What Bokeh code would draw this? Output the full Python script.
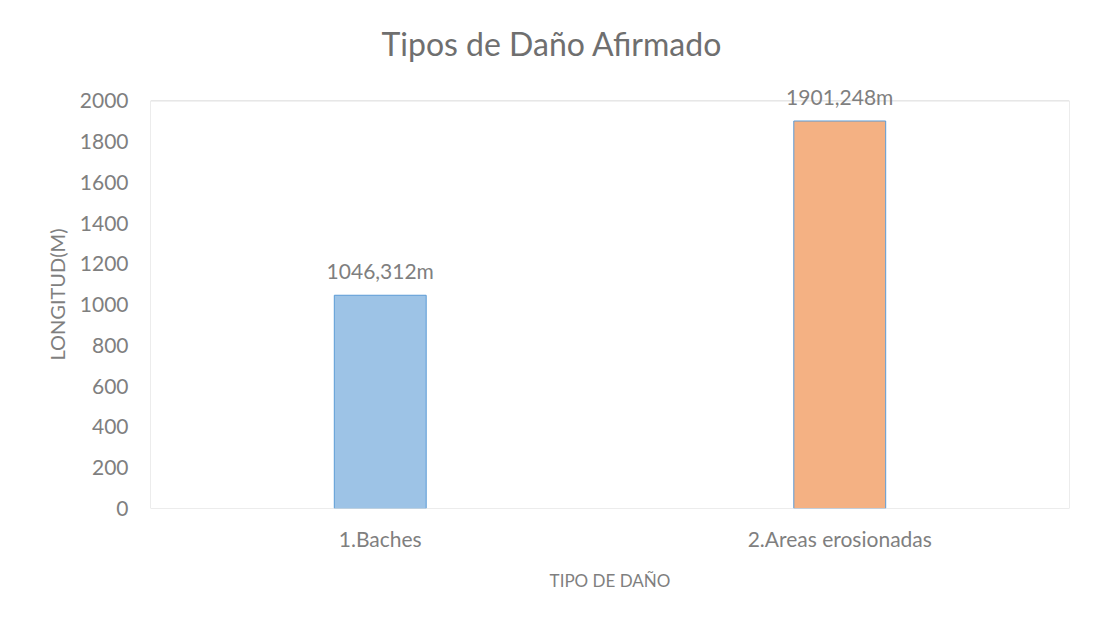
from bokeh.plotting import figure
from bokeh.models import ColumnDataSource, FactorRange, FixedTicker, LabelSet, BoxAnnotation
from bokeh.embed import file_html
from bokeh.resources import INLINE
from bokeh.core.properties import value

categories = ["1.Baches", "2.Areas erosionadas"]
values = [1046.312, 1901.248]
fill_colors = ["#9DC3E6", "#F4B183"]
y_ticks = [0, 200, 400, 600, 800, 1000, 1200, 1400, 1600, 1800, 2000]

labels = [f"{v:.3f}".replace(".", ",") + "m" for v in values]

FONT = "Lato"
GRAY = "#7f7f7f"

src = ColumnDataSource(dict(cat=categories, val=values, color=fill_colors, label=labels))

# headroom above the 2000 frame line so the value labels are not clipped
y_top = y_ticks[-1] * 1.05

p = figure(width=1095, height=620, x_range=FactorRange(*categories), y_range=(0, y_top),
           output_backend="svg", toolbar_location=None,
           min_border_left=150, min_border_right=26, min_border_top=80, min_border_bottom=112)

p.title.text = "Tipos de Daño Afirmado"
p.title.align = "left"
p.title.offset = 231
p.title.text_font = FONT
p.title.text_font_size = "32px"
p.title.text_font_style = "normal"
p.title.text_color = "#6f6f6f"
p.title.standoff = 36

# plot-area border (0 .. 2000)
p.add_layout(BoxAnnotation(bottom=y_ticks[0], top=y_ticks[-1], fill_alpha=0,
                           line_color="#d9d9d9", line_alpha=1.0, line_width=1))

p.vbar(x="cat", top="val", width=0.2, source=src, fill_color="color", line_color="#5B9BD5", line_width=1)
p.add_layout(LabelSet(x="cat", y="val", text="label", source=src, text_align="center",
                      text_baseline="alphabetic", y_offset=16, text_font=value(FONT),
                      text_font_size=value("21px"), text_color=GRAY))

p.xgrid.visible = False
p.ygrid.visible = False
p.outline_line_color = None

p.yaxis.ticker = FixedTicker(ticks=y_ticks)
for ax in (p.xaxis, p.yaxis):
    ax.axis_line_color = None
    ax.major_tick_line_color = None
    ax.minor_tick_line_color = None
    ax.major_tick_out = 0
    ax.major_tick_in = 0
    ax.minor_tick_out = 0
    ax.major_label_text_font = FONT
    ax.major_label_text_font_size = "21px"
    ax.major_label_text_color = GRAY
    ax.axis_label_text_font = FONT
    ax.axis_label_text_font_style = "normal"
    ax.axis_label_text_color = GRAY

p.yaxis.axis_label = "LONGITUD(M)"
p.yaxis.axis_label_text_font_size = "20px"
p.yaxis.major_label_standoff = 22
p.yaxis.axis_label_standoff = 8
p.xaxis.axis_label = "TIPO DE DAÑO"
p.xaxis.axis_label_text_font_size = "17px"
p.xaxis.major_label_standoff = 17
p.xaxis.axis_label_standoff = 16

p.background_fill_color = "white"
p.border_fill_color = "white"

open("out.html", "w").write(file_html(p, INLINE))
